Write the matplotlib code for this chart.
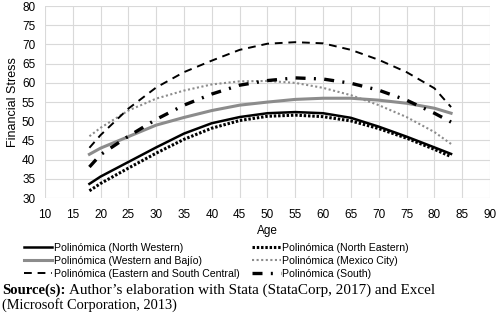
import matplotlib.pyplot as plt

ages = [18, 20, 25, 30, 35, 40, 45, 50, 55, 60, 65, 70, 75, 80, 83]

north_western = [33.7, 35.6, 39.4, 43.2, 46.8, 49.5, 51.1, 52.1, 52.4, 52.1, 50.9, 48.6, 46.0, 43.2, 41.5]
north_eastern = [31.9, 33.8, 37.8, 41.7, 45.3, 48.2, 50.2, 51.3, 51.6, 51.2, 50.1, 48.1, 45.6, 42.7, 40.8]
western_bajio = [41.4, 43.0, 46.0, 49.0, 51.0, 52.8, 54.2, 55.0, 55.7, 56.0, 56.0, 55.5, 54.7, 53.4, 52.1]
mexico_city = [46.1, 48.3, 52.8, 55.9, 58.0, 59.6, 60.4, 60.5, 60.0, 58.7, 56.8, 54.2, 51.1, 47.2, 44.1]
eastern_south_central = [43.1, 46.4, 53.3, 58.8, 62.8, 65.8, 68.6, 70.2, 70.6, 70.3, 68.6, 66.0, 62.8, 58.6, 53.7]
south = [38.1, 41.3, 46.1, 50.5, 54.2, 57.1, 59.4, 60.6, 61.3, 61.0, 59.9, 58.1, 55.5, 52.1, 49.8]

x_ticks = list(range(10, 95, 5))
y_ticks = list(range(30, 85, 5))

plt.rcParams['font.family'] = ['Liberation Sans', 'DejaVu Sans']

fig = plt.figure(figsize=(4.99, 3.2), dpi=100)
ax = fig.add_axes([0.090, 0.381, 0.892, 0.600])

ax.plot(ages, north_western, color='black', lw=1.8, label='Polinómica (North Western)')
ax.plot(ages, north_eastern, color='black', lw=2.2, linestyle=(0, (0.8, 0.6)),
        label='Polinómica (North Eastern)')
ax.plot(ages, western_bajio, color='#8c8c8c', lw=2.2, label='Polinómica (Western and Bajío)')
ax.plot(ages, mexico_city, color='#8c8c8c', lw=1.5, linestyle=(0, (1, 1.2)),
        label='Polinómica (Mexico City)')
ax.plot(ages, eastern_south_central, color='black', lw=1.4, linestyle=(0, (4, 3)),
        label='Polinómica (Eastern and South Central)')
ax.plot(ages, south, color='black', lw=2.4, linestyle=(0, (3, 2.5, 0.6, 2.5)),
        label='Polinómica (South)')

ax.set_xlim(10, 90)
ax.set_ylim(30, 80)
ax.set_xticks(x_ticks)
ax.set_yticks(y_ticks)
ax.grid(True, color='#d9d9d9', lw=0.8)
ax.set_axisbelow(True)
for s in ax.spines.values():
    s.set_visible(False)
ax.tick_params(axis='y', length=0, labelsize=8.5, pad=7)
ax.tick_params(axis='x', length=0, labelsize=8.5, pad=8)
ax.set_xlabel('Age', fontsize=8.5, labelpad=3)
ax.set_ylabel('Financial Stress', fontsize=9, labelpad=2)

h, l = ax.get_legend_handles_labels()
order = [0, 2, 4, 1, 3, 5]
fig.legend([h[i] for i in order], [l[i] for i in order], ncol=2,
           loc='upper left', bbox_to_anchor=(0.037, 0.257), frameon=False,
           fontsize=7.6, handlelength=2.7, handletextpad=0.15,
           labelspacing=0.28, columnspacing=1.2, borderpad=0)

# source note: bold lead-in, then plain text placed right after it
fig.canvas.draw()
r = fig.canvas.get_renderer()
lead = fig.text(0.004, 0.083, 'Source(s):', fontsize=10.6, family='Liberation Serif',
                weight='bold')
bb = lead.get_window_extent(renderer=r)
x_after = (bb.x1 + 4) / fig.bbox.width
fig.text(x_after, 0.083, 'Author\u2019s elaboration with Stata (StataCorp, 2017) and Excel',
         fontsize=10.9, family='Liberation Serif')
fig.text(0.004, 0.036, '(Microsoft Corporation, 2013)', fontsize=10.4,
         family='Liberation Serif')

plt.savefig('out.png', dpi=100)
